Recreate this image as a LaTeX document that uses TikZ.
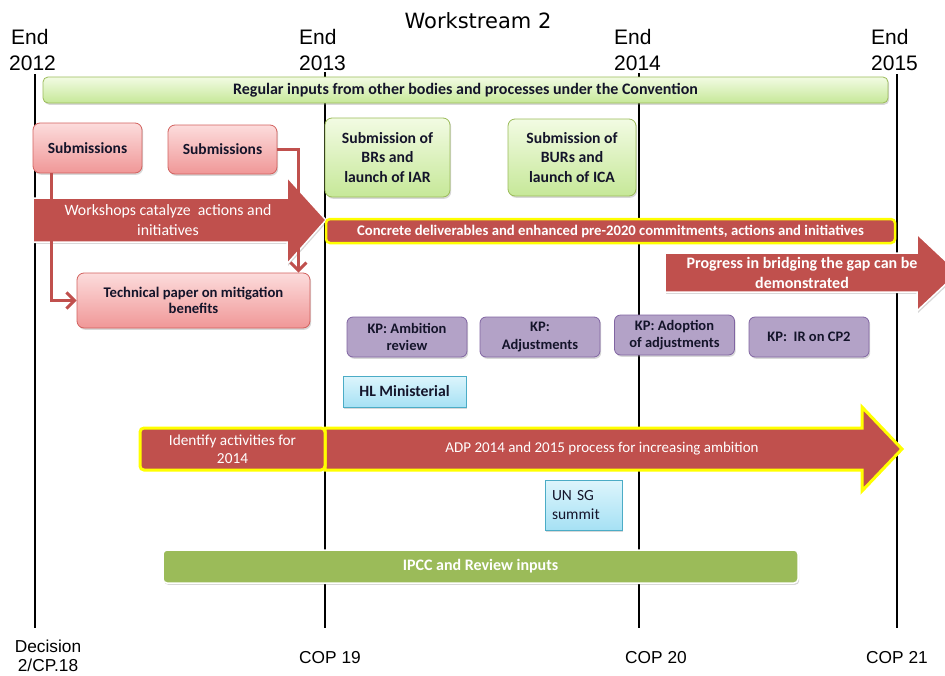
\documentclass[tikz,border=0pt]{standalone}
\usepackage{fontspec}
\setmainfont{Carlito}
\newfontfamily\arialf{Liberation Sans}
\newfontfamily\titlef{DejaVu Sans}
\usetikzlibrary{shadows,arrows.meta}
\newcommand{\fsz}[2]{\fontsize{#1}{#2}\selectfont}
\definecolor{wsred}{HTML}{C0504D}
\definecolor{wsyellow}{HTML}{FFFF00}
\definecolor{lgtop}{HTML}{F2FBE3}
\definecolor{lgbot}{HTML}{C6E898}
\definecolor{lgborder}{HTML}{9BBB59}
\definecolor{pktop}{HTML}{FCDCDC}
\definecolor{pkbot}{HTML}{F09797}
\definecolor{pkborder}{HTML}{D2625F}
\definecolor{kpfill}{HTML}{B3A2C7}
\definecolor{kpborder}{HTML}{8064A2}
\definecolor{cytop}{HTML}{DDF5FC}
\definecolor{cybot}{HTML}{A6E1F4}
\definecolor{cyborder}{HTML}{4BACC6}
\definecolor{ipcc}{HTML}{9BBB59}
\definecolor{boxtext}{HTML}{14142A}
\tikzset{
  timeline/.style={line width=2.5pt, black},
  yearlbl/.style={font=\arialf\fsz{21}{25}, anchor=base west, inner sep=0pt},
  coplbl/.style={font=\arialf\fsz{17.3}{18.5}, align=center, inner sep=0pt},
  softshadow/.style={drop shadow={shadow xshift=1.2pt, shadow yshift=-1.8pt, opacity=0.3}},
  greenbox/.style={rounded corners=7pt, draw=lgborder, line width=0.8pt, top color=lgtop, bottom color=lgbot, softshadow, align=center, text=boxtext, inner sep=0pt},
  pinkbox/.style={rounded corners=7pt, draw=pkborder, line width=0.8pt, top color=pktop, bottom color=pkbot, softshadow, align=center, text=boxtext, inner sep=0pt, font=\bfseries\fsz{15.5}{17}},
  kpbox/.style={rounded corners=6pt, draw=kpborder, line width=0.8pt, fill=kpfill, softshadow, align=center, text=boxtext, inner sep=0pt, minimum width=120, font=\bfseries\fsz{14.5}{17.5}},
  cybox/.style={draw=cyborder, line width=0.8pt, top color=cytop, bottom color=cybot, softshadow, text=boxtext, inner sep=0pt},
  redbar/.style={rounded corners=4pt, fill=wsred, draw=wsyellow, line width=2.5pt, text=white, align=center, inner sep=0pt},
  bigarrow/.style={fill=wsred, draw=white, line width=1.5pt, softshadow},
  arrowtext/.style={text=white, align=center, inner sep=0pt},
  conn/.style={draw=wsred, line width=3pt, -{Straight Barb[length=8pt,width=16pt]}},
}
\begin{document}
\begin{tikzpicture}[x=1pt,y=-1pt]
\clip (0,0) rectangle (945,675);
\fill[white] (0,0) rectangle (945,675);

% title
\node[font=\titlef\fsz{21}{25}, inner sep=0pt] (title) at (478,21) {Workstream 2};

% year labels
\node[yearlbl] (y12a) at (11,44) {End};
\node[yearlbl] (y12b) at (9,70) {2012};
\node[yearlbl] (y13a) at (299,44) {End};
\node[yearlbl] (y13b) at (299,70) {2013};
\node[yearlbl] (y14a) at (614,44) {End};
\node[yearlbl] (y14b) at (614,70) {2014};
\node[yearlbl] (y15a) at (871,44) {End};
\node[yearlbl] (y15b) at (871,70) {2015};

% timelines
\coordinate (t12top) at (35,74);  \coordinate (t12bot) at (35,628);
\coordinate (t13top) at (325,72); \coordinate (t13bot) at (325,628);
\coordinate (t14top) at (639,73); \coordinate (t14bot) at (639,628);
\coordinate (t15top) at (897,74); \coordinate (t15bot) at (897,628);
\draw[timeline] (t12top) -- (t12bot);
\draw[timeline] (t13top) -- (t13bot);
\draw[timeline] (t14top) -- (t14bot);
\draw[timeline] (t15top) -- (t15bot);

% bottom labels
\node[coplbl] (dec) at (48,656) {Decision\\2/CP.18};
\node[coplbl] (cop19) at (330,658) {COP 19};
\node[coplbl] (cop20) at (656,658) {COP 20};
\node[coplbl] (cop21) at (897,658) {COP 21};

% regular inputs bar
\node[greenbox, rounded corners=5pt, minimum width=845, minimum height=26, font=\bfseries\fsz{16}{18}] (reg) at (465.5,90)
  {Regular inputs from other bodies and processes under the Convention};

% submissions
\node[pinkbox, minimum width=109, minimum height=50] (sub1) at (87.5,148) {Submissions};
\node[pinkbox, minimum width=109, minimum height=49] (sub2) at (222.5,149.5) {Submissions};

% green submission boxes
\node[greenbox, minimum width=125, minimum height=79, font=\bfseries\fsz{15.7}{19.5}] (brs) at (387.5,157.5)
  {Submission of\\BRs and\\launch of IAR};
\node[greenbox, minimum width=128, minimum height=77, font=\bfseries\fsz{15.7}{19.5}] (burs) at (572,157.5)
  {Submission of\\BURs and\\launch of ICA};

% workshops arrow
\path[bigarrow] (33,198) -- (287,198) -- (287,177) -- (326,220) -- (287,264) -- (287,242) -- (33,242) -- cycle;
\node[arrowtext, font=\fsz{15.8}{20}] (ws) at (168,220) {Workshops catalyze\ \ actions and\\initiatives};

% concrete deliverables bar
\node[redbar, minimum width=569, minimum height=24, font=\bfseries\fsz{14.7}{16}] (conc) at (610.5,231)
  {Concrete deliverables and enhanced pre-2020 commitments, actions and initiatives};

% progress arrow
\path[bigarrow] (665,253) -- (917,253) -- (917,234) -- (958,272.5) -- (917,311) -- (917,292) -- (665,292) -- cycle;
\node[arrowtext, font=\bfseries\fsz{16}{20}] (prog) at (802,273) {Progress in bridging the gap can be\\demonstrated};

% technical paper
\node[pinkbox, minimum width=233, minimum height=55, font=\bfseries\fsz{14.7}{16.5}] (tech) at (193.5,300.5)
  {Technical paper on mitigation\\benefits};

% connectors
\draw[conn] ([xshift=19pt]sub1.south west) |- (tech.west);
\draw[conn] (sub2.east) -| ([xshift=-12pt]tech.north east);

% KP boxes
\node[kpbox, minimum height=40] (kpamb) at (407,337) {KP: Ambition\\review};
\node[kpbox, minimum height=40] (kpadj) at (540,337) {KP:\\Adjustments};
\node[kpbox, minimum height=40] (kpado) at (674.5,335) {KP: Adoption\\of adjustments};
\node[kpbox, minimum height=40] (kpir) at (809,337) {KP:\ \ IR on CP2};

% HL ministerial
\node[cybox, minimum width=123, minimum height=31, font=\bfseries\fsz{15.7}{17}] (hl) at (404.5,391.5) {HL Ministerial};

% ADP arrow
\path[fill=wsred, draw=wsyellow, line width=3pt, line join=miter] (325,428) -- (862,428) -- (862,407) -- (902,449) -- (862,491) -- (862,470) -- (325,470) -- cycle;
\node[arrowtext, font=\fsz{15}{17}] (adp) at (602,449) {ADP 2014 and 2015\ process for increasing ambition};
\node[redbar, line width=3pt, minimum width=185, minimum height=42, font=\fsz{15.3}{18}] (ident) at (232.5,449)
  {Identify activities for\\2014};

% UN SG summit
\node[cybox, minimum height=50, text width=63, inner xsep=7pt, align=left, font=\fsz{15.5}{19}] (unsg) at (583.5,505) {UN SG\\summit};

% IPCC bar
\node[rounded corners=4pt, fill=ipcc, draw=white, line width=1.5pt, softshadow, minimum width=635, minimum height=33,
      text=white, font=\bfseries\fsz{16}{17}, inner sep=0pt] (ipccbar) at (480.5,566.5) {IPCC and Review inputs};
\end{tikzpicture}
\end{document}
